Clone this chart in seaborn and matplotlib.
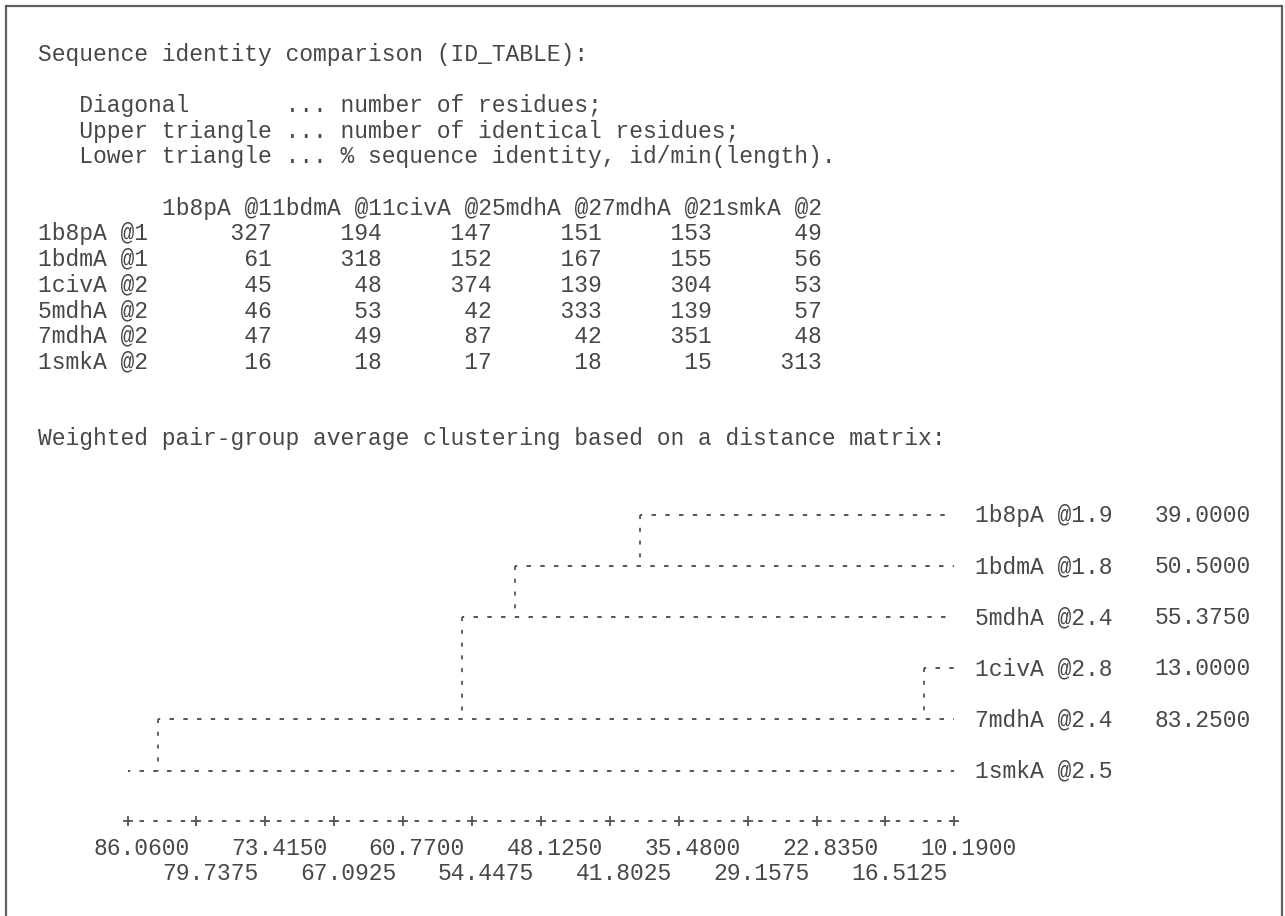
import matplotlib
matplotlib.use("Agg")
import matplotlib.pyplot as plt
import matplotlib.transforms as mtransforms
from matplotlib.patches import Rectangle
import seaborn as sns

# ID_TABLE values (diagonal / upper / lower triangle)
seq_names = ["1b8pA @1", "1bdmA @1", "1civA @2", "5mdhA @2", "7mdhA @2", "1smkA @2"]
id_table = [
    [327, 194, 147, 151, 153, 49],
    [61, 318, 152, 167, 155, 56],
    [45, 48, 374, 139, 304, 53],
    [46, 53, 42, 333, 139, 57],
    [47, 49, 87, 42, 351, 48],
    [16, 18, 17, 18, 15, 313],
]

# dendrogram rows, top to bottom
leaf_labels = ["1b8pA @1.9", "1bdmA @1.8", "5mdhA @2.4", "1civA @2.8", "7mdhA @2.4", "1smkA @2.5"]
join_dist = [39.0, 50.5, 55.375, 13.0, 83.25]
join_to_row = [1, 2, 4, 4, 5]

axis_ticks = [86.06, 79.7375, 73.415, 67.0925, 60.77, 54.4475, 48.125,
              41.8025, 35.48, 29.1575, 22.835, 16.5125, 10.19]

header_lines = [
    "Sequence identity comparison (ID_TABLE):",
    "",
    "   Diagonal       ... number of residues;",
    "   Upper triangle ... number of identical residues;",
    "   Lower triangle ... % sequence identity, id/min(length).",
]
cluster_title = "Weighted pair-group average clustering based on a distance matrix:"

# page layout (pixels): monospace grid
W, H = 1285, 916
CW = 13.78      # char width
X0 = 38         # left of column 0
LH = 25.6       # line height
Y0 = 61         # baseline of line 0
FS = CW / 0.6 * 0.72
TXT = "#474747"
LINE = "#555555"

sns.set_style("white")
plt.rcParams["font.family"] = ["Liberation Mono", "DejaVu Sans Mono"]
plt.rcParams["lines.scale_dashes"] = False

fig = plt.figure(figsize=(W / 100, H / 100), dpi=100)
fig.patch.set_facecolor("white")

ylim = ((H - Y0) / LH, -Y0 / LH)

# text grid axes: x = column, y = line
ax_t = fig.add_axes([0, 0, 1, 1])
ax_t.set_xlim(-X0 / CW, (W - X0) / CW)
ax_t.set_ylim(*ylim)
ax_t.axis("off")

def put(col, line, s):
    ax_t.text(col, line, s, ha="left", va="baseline", fontsize=FS, color=TXT)

for i, s in enumerate(header_lines):
    if s:
        put(0, i, s)

put(9, 6, "".join(seq_names))
for r, (name, row) in enumerate(zip(seq_names, id_table)):
    put(0, 7 + r, f"{name:<8s} " + "".join(f"{v:8d}" for v in row))

put(0, 15, cluster_title)

row_line = [18, 20, 22, 24, 26, 28]
for i, lab in enumerate(leaf_labels):
    put(68, row_line[i], lab)
    if i < len(join_dist):
        put(81, row_line[i], f"{join_dist[i]:.4f}")

# dendrogram axes: x = distance (decreasing to the right)
ax_d = fig.add_axes([0, 0, 1, 1])
p_first = X0 + 6.5 * CW
p_last = X0 + 66.5 * CW
slope = (p_last - p_first) / (axis_ticks[0] - axis_ticks[-1])
ax_d.set_xlim(axis_ticks[0] + p_first / slope, axis_ticks[0] - (W - p_first) / slope)
ax_d.set_ylim(*ylim)
ax_d.axis("off")

hdash = (1.6, (3.2, 6.7))
vdash = (0, (2.9, 6.3))
row_y = [l - 0.28 for l in row_line]

for i, y in enumerate(row_y):
    start = join_dist[i] if i < len(join_dist) else axis_ticks[0]
    ax_d.plot([start, axis_ticks[-1]], [y, y], color=LINE, lw=1.4, linestyle=hdash,
              solid_capstyle="butt", dash_capstyle="butt")

for i, d in enumerate(join_dist):
    ax_d.plot([d, d], [row_y[i], row_y[join_to_row[i]]], color=LINE, lw=1.3,
              linestyle=vdash, dash_capstyle="butt")

# distance axis
axis_y = 30 - 0.31
ax_d.plot([axis_ticks[0], axis_ticks[-1]], [axis_y, axis_y], color=LINE, lw=1.4,
          linestyle=hdash, dash_capstyle="butt")
sns.scatterplot(x=axis_ticks, y=[axis_y] * len(axis_ticks), marker="+", s=55,
                color=LINE, linewidth=1.3, ax=ax_d, zorder=3)
ax_d.set_xlim(axis_ticks[0] + p_first / slope, axis_ticks[0] - (W - p_first) / slope)
ax_d.set_ylim(*ylim)
ax_d.axis("off")

lab_tr = mtransforms.offset_copy(ax_d.transData, fig=fig, x=-2.5 * CW * 0.72, y=0, units="points")
for k, t in enumerate(axis_ticks):
    ax_d.text(t, 31 + (k % 2), f"{t:.4f}", transform=lab_tr, ha="left", va="baseline",
              fontsize=FS, color=TXT)

# page frame
fig.add_artist(Rectangle((6 / W, -0.05), (1282 - 6) / W, 1 - 6 / H + 0.05,
                         transform=fig.transFigure, fill=False, ec="#5e5e5e", lw=1.6))

fig.savefig("out.png", dpi=100, facecolor="white")
